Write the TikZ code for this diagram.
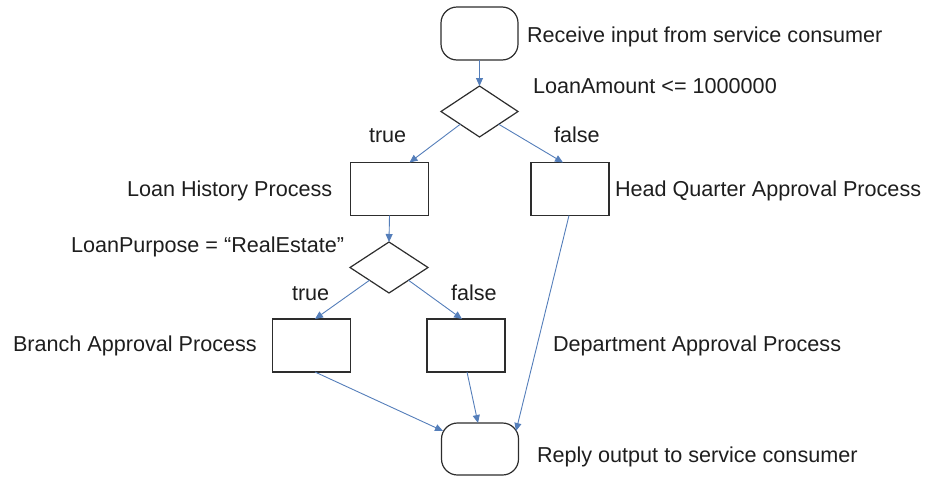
\documentclass[tikz,border=0pt]{standalone}
\usepackage{fontspec}
\setmainfont{Liberation Sans}
\usetikzlibrary{shapes.geometric,arrows.meta}
\definecolor{arrowblue}{RGB}{84,126,186}
\definecolor{boxline}{RGB}{45,45,45}
\definecolor{txt}{RGB}{30,30,30}
\begin{document}
\begin{tikzpicture}[x=1pt,y=-1pt,
  every node/.style={inner sep=0pt, outer sep=0pt},
  term/.style={draw=boxline, line width=1.2pt, rounded corners=16pt, minimum width=77pt, minimum height=53pt, fill=white},
  decide/.style={draw=boxline, line width=1.2pt, shape=diamond, minimum width=77pt, minimum height=51pt, fill=white},
  proc/.style={draw=boxline, line width=1.2pt, minimum width=78pt, minimum height=53pt, fill=white},
  lbl/.style={anchor=base west, text=txt, font=\fontsize{21.6}{24}\selectfont},
  flow/.style={draw=arrowblue, line width=0.9pt, -{Triangle[length=8pt,width=7pt]}}
]
\useasboundingbox (0,0) rectangle (929,477);
% shapes
\node[term]   (start) at (479.5,33.5) {};
\node[decide] (d1)    at (479.5,111.5) {};
\node[proc]   (b1)    at (389.5,189) {};
\node[proc]   (b2)    at (570,189) {};
\node[decide, minimum width=78pt] (d2) at (389,267.5) {};
\node[proc]   (b3)    at (311.5,345.5) {};
\node[proc]   (b4)    at (466,345.5) {};
\node[term, minimum height=52pt] (end) at (480,449) {};
% labels
\node[lbl] (tstart) at (527,42)  {Receive input from service consumer};
\node[lbl] (td1)    at (533,93)  {LoanAmount <= 1000000};
\node[lbl] (ttrue1) at (369,142) {true};
\node[lbl] (tfalse1) at (554,142) {false};
\node[lbl] (tb1)    at (127,196) {Loan History Process};
\node[lbl] (tb2)    at (615,196) {Head Quarter Approval Process};
\node[lbl] (td2)    at (71,252)  {LoanPurpose = “RealEstate”};
\node[lbl] (ttrue2) at (292,300) {true};
\node[lbl] (tfalse2) at (451,300) {false};
\node[lbl] (tb3)    at (13,351)  {Branch Approval Process};
\node[lbl] (tb4)    at (553,351) {Department Approval Process};
\node[lbl] (tend)   at (537,462) {Reply output to service consumer};
% connectors
\draw[flow] (start.south) -- (d1.north);
\draw[flow] (d1.south west) -- ([xshift=20pt]b1.north);
\draw[flow] (d1.south east) -- ([xshift=-7pt]b2.north);
\draw[flow] (b1.south) -- (d2.north);
\draw[flow] (d2.south west) -- ([xshift=3.5pt]b3.north);
\draw[flow] (d2.south east) -- ([xshift=-4pt]b4.north);
\draw[flow] ([xshift=3.5pt]b3.south) -- ([xshift=-37pt,yshift=-8pt]end.north);
\draw[flow] ([xshift=1pt]b4.south) -- ([xshift=-2pt]end.north);
\draw[flow] ([xshift=-1pt]b2.south) -- ([xshift=36pt,yshift=-8pt]end.north);
\end{tikzpicture}
\end{document}
